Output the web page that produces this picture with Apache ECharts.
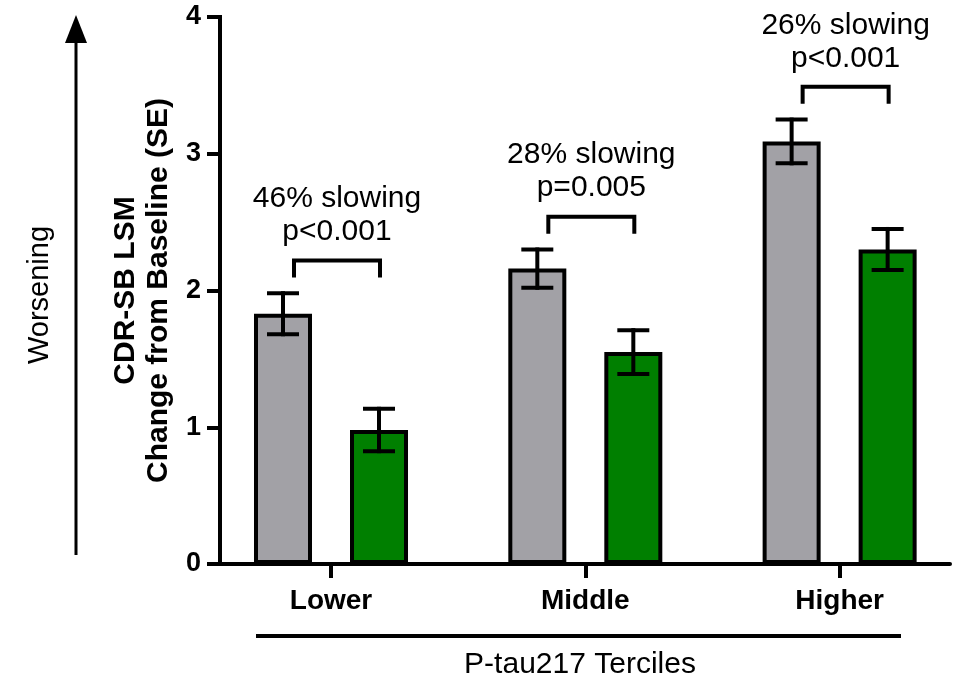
<!DOCTYPE html>
<html>
<head>
<meta charset="utf-8">
<script src="https://cdn.jsdelivr.net/npm/echarts@6/dist/echarts.min.js"></script>
<style>
  html, body { margin: 0; padding: 0; background: #ffffff; }
  #chart { width: 957px; height: 682px; }
</style>
</head>
<body>
<div id="chart"></div>
<script>
// CDR-SB LSM change from baseline by P-tau217 tercile
const categories = ['Lower', 'Middle', 'Higher'];
const placeboMean = [1.83, 2.16, 3.09];
const placeboSE = [0.15, 0.14, 0.16];
const treatedMean = [0.98, 1.55, 2.30];
const treatedSE = [0.155, 0.16, 0.15];
const slowingLabels = ['46% slowing', '28% slowing', '26% slowing'];
const pValueLabels = ['p<0.001', 'p=0.005', 'p<0.001'];
const yMin = 0, yMax = 4, yStep = 1;

const FONT = '"Liberation Sans", Arial, Helvetica, sans-serif';
const INK = '#000000';
const BAR_W = 58;         // bar body width, px
const BAR_BORDER = 4;     // outline width, px
const BAR_SPACE = 38;     // space between the two bars of a group, px
const PAIR_OFFSET = (BAR_W + BAR_SPACE) / 2;
const BRACKET_CLEARANCE = 0.24;  // bracket sits this far above the taller error bar

const chart = echarts.init(document.getElementById('chart'), null, { renderer: 'canvas' });

function errorBars(sign) {
  return function (params, api) {
    const x = api.value(0), m = api.value(1), se = api.value(2);
    const hi = api.coord([x, m + se]);
    const lo = api.coord([x, m - se]);
    const cx = hi[0] + sign * PAIR_OFFSET;
    const cap = 16;
    const style = { stroke: INK, lineWidth: 4, lineCap: 'butt' };
    return {
      type: 'group',
      children: [
        { type: 'line', shape: { x1: cx, y1: hi[1] - 2, x2: cx, y2: lo[1] + 2 }, style },
        { type: 'line', shape: { x1: cx - cap, y1: hi[1], x2: cx + cap, y2: hi[1] }, style },
        { type: 'line', shape: { x1: cx - cap, y1: lo[1], x2: cx + cap, y2: lo[1] }, style }
      ]
    };
  };
}

function bracket(params, api) {
  const i = api.value(0);
  const p = api.coord([i, api.value(1)]);
  const cx = p[0] + 6;
  const half = 43, leg = 17;
  return {
    type: 'group',
    children: [
      {
        type: 'polyline',
        shape: { points: [[cx - half, p[1] + leg], [cx - half, p[1]], [cx + half, p[1]], [cx + half, p[1] + leg]] },
        style: { stroke: INK, lineWidth: 4, fill: null, lineJoin: 'miter', lineCap: 'butt' }
      },
      {
        type: 'text',
        x: cx, y: p[1] - 12,
        style: {
          text: slowingLabels[i] + '\n' + pValueLabels[i],
          fill: INK, font: '30px ' + FONT, lineHeight: 33,
          align: 'center', verticalAlign: 'bottom'
        }
      }
    ]
  };
}

const bracketData = categories.map((c, i) => [
  i,
  Math.max(placeboMean[i] + placeboSE[i], treatedMean[i] + treatedSE[i]) + BRACKET_CLEARANCE
]);

const option = {
  backgroundColor: '#ffffff',
  animation: false,
  grid: { left: 220, top: 17, width: 730, height: 547, containLabel: false, outerBoundsMode: 'none' },
  xAxis: {
    type: 'value',
    min: -0.4365,
    max: 2.434,
    axisLine: { show: true, onZero: false, lineStyle: { color: INK, width: 4 } },
    axisTick: { show: true, customValues: [0, 1, 2], length: 14, lineStyle: { color: INK, width: 4 } },
    axisLabel: {
      customValues: [0, 1, 2],
      formatter: v => categories[Math.round(v)],
      color: INK, fontFamily: FONT, fontWeight: 'bold', fontSize: 28, margin: 23
    },
    splitLine: { show: false }
  },
  yAxis: {
    type: 'value',
    min: yMin, max: yMax, interval: yStep,
    axisLine: { show: true, onZero: false, lineStyle: { color: INK, width: 4, cap: 'square' } },
    axisTick: { show: true, length: 13, lineStyle: { color: INK, width: 4 } },
    axisLabel: { color: INK, fontFamily: FONT, fontWeight: 'bold', fontSize: 27, margin: 19 },
    splitLine: { show: false },
    name: 'CDR-SB LSM\nChange from Baseline (SE)',
    nameLocation: 'middle',
    nameRotate: 90,
    nameGap: 42,
    nameTextStyle: { color: INK, fontFamily: FONT, fontWeight: 'bold', fontSize: 30, lineHeight: 33 }
  },
  series: [
    {
      name: 'Placebo', type: 'bar',
      data: categories.map((c, i) => [i, placeboMean[i]]),
      barWidth: BAR_W, barGap: (BAR_SPACE / BAR_W * 100) + '%',
      itemStyle: { color: '#a2a1a6', borderColor: INK, borderWidth: BAR_BORDER },
      z: 2
    },
    {
      name: 'Treated', type: 'bar',
      data: categories.map((c, i) => [i, treatedMean[i]]),
      barWidth: BAR_W, barGap: (BAR_SPACE / BAR_W * 100) + '%',
      itemStyle: { color: '#007f00', borderColor: INK, borderWidth: BAR_BORDER },
      z: 2
    },
    {
      type: 'custom', renderItem: errorBars(-1),
      data: categories.map((c, i) => [i, placeboMean[i], placeboSE[i]]),
      encode: { x: 0, y: 1 }, z: 5, silent: true
    },
    {
      type: 'custom', renderItem: errorBars(1),
      data: categories.map((c, i) => [i, treatedMean[i], treatedSE[i]]),
      encode: { x: 0, y: 1 }, z: 5, silent: true
    },
    {
      type: 'custom', renderItem: bracket,
      data: bracketData,
      encode: { x: 0, y: 1 }, z: 5, silent: true
    }
  ],
  graphic: [
    // "Worsening" direction arrow
    { type: 'line', shape: { x1: 76, y1: 555, x2: 76, y2: 40 }, style: { stroke: INK, lineWidth: 3 } },
    { type: 'polygon', shape: { points: [[65, 43], [87, 43], [76, 15]] }, style: { fill: INK } },
    {
      type: 'text', x: 40, y: 295, rotation: Math.PI / 2,
      style: { text: 'Worsening', fill: INK, font: '29px ' + FONT, align: 'center', verticalAlign: 'middle' }
    },
    // x-axis group title
    { type: 'line', shape: { x1: 256, y1: 636, x2: 901, y2: 636 }, style: { stroke: INK, lineWidth: 4 } },
    {
      type: 'text', x: 580, y: 665,
      style: { text: 'P-tau217 Terciles', fill: INK, font: '30px ' + FONT, align: 'center', verticalAlign: 'middle' }
    }
  ]
};

chart.setOption(option);
</script>
</body>
</html>
